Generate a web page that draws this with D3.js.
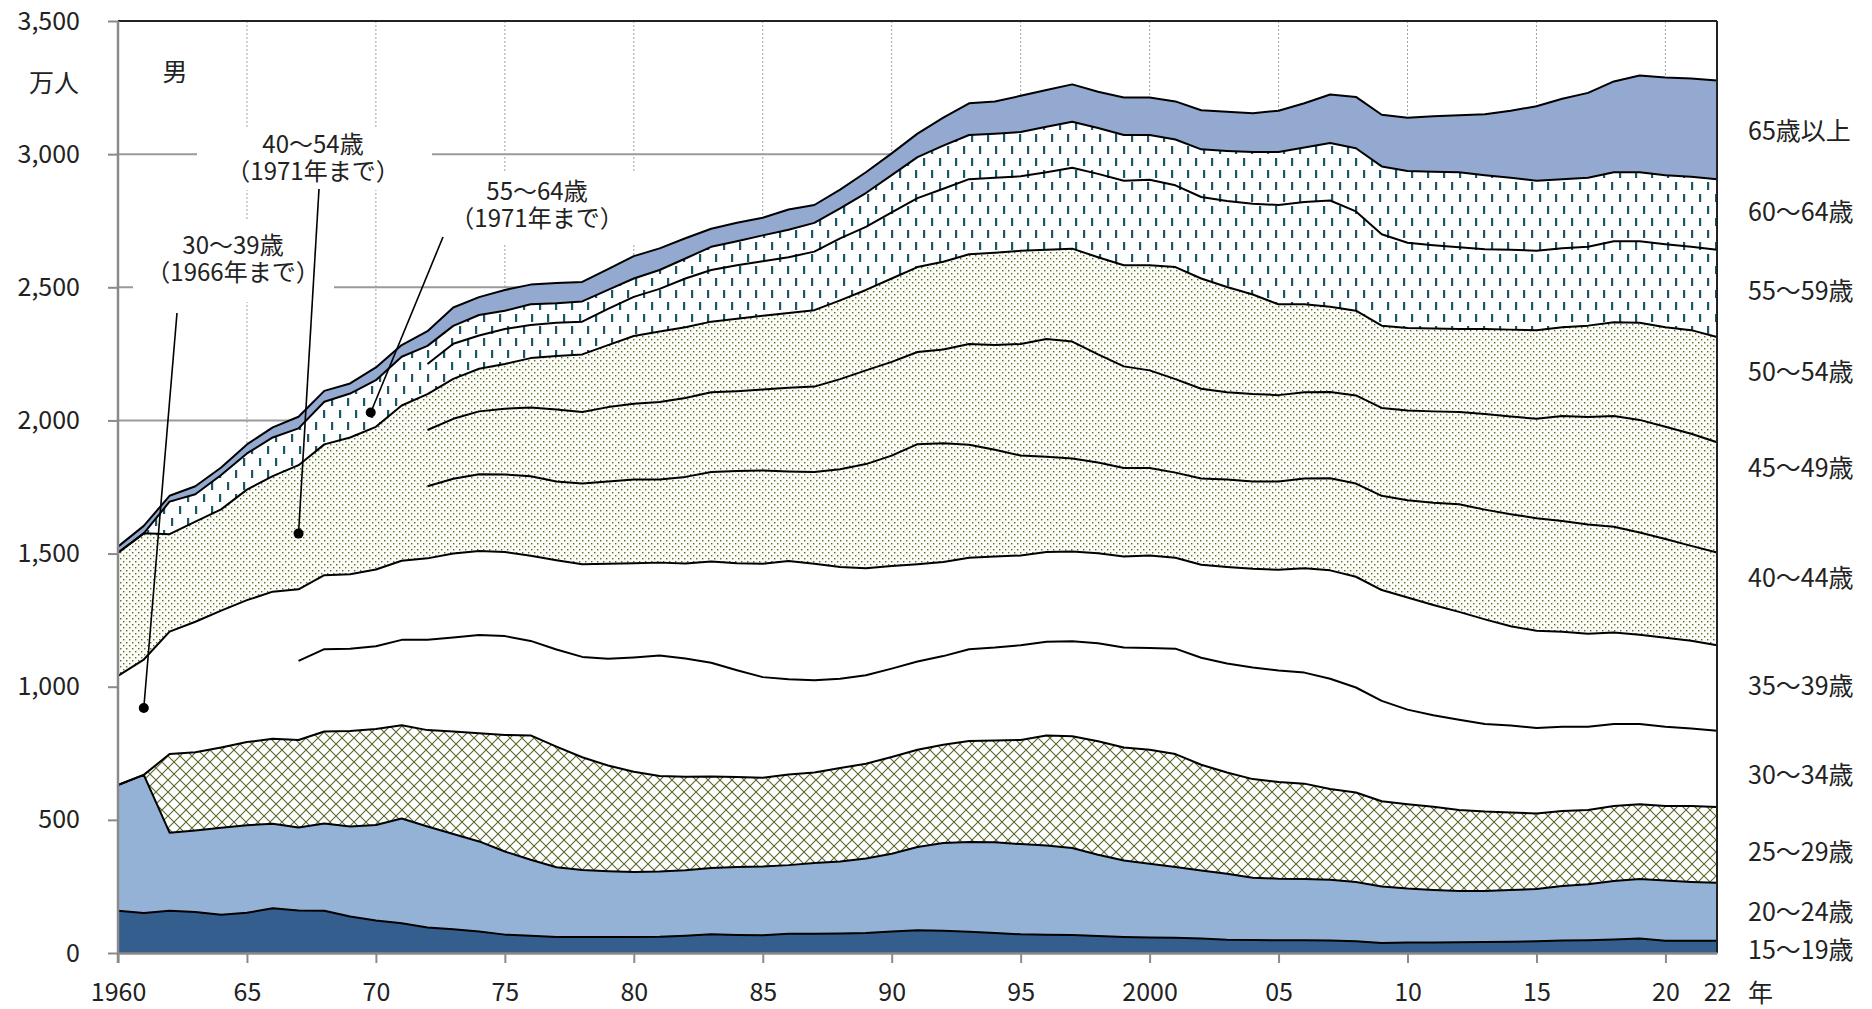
<!DOCTYPE html>
<html><head><meta charset="utf-8">
<script src="https://cdn.jsdelivr.net/npm/d3@7"></script>
<style>
html,body{margin:0;padding:0;background:#fff;}
svg{display:block;font-family:"Noto Sans CJK JP","Noto Sans",sans-serif;}
</style></head>
<body>
<svg id="chart" width="1872" height="1009"></svg>
<script>
// ---------------- data (万人) ----------------
const years = [1960,1961,1962,1963,1964,1965,1966,1967,1968,1969,
 1970,1971,1972,1973,1974,1975,1976,1977,1978,1979,
 1980,1981,1982,1983,1984,1985,1986,1987,1988,1989,
 1990,1991,1992,1993,1994,1995,1996,1997,1998,1999,
 2000,2001,2002,2003,2004,2005,2006,2007,2008,2009,
 2010,2011,2012,2013,2014,2015,2016,2017,2018,2019,
 2020,2021,2022];

const age15_19 = [159,150,159,154,144,151,168,160,159,137,
 122,112,96,89,81,69,65,60,60,60,
 60,61,65,70,68,67,72,72,73,75,
 81,85,84,80,75,70,69,68,64,60,
 58,57,54,50,49,48,48,47,44,38,
 39,39,40,41,42,44,47,48,51,54,
 46,46,46];
const age20_24 = [472,519,293,306,326,329,317,311,327,338,
 359,393,379,358,338,312,285,262,252,247,
 244,245,246,249,255,258,258,266,271,280,
 292,313,329,337,341,339,335,326,305,287,
 277,266,256,248,234,231,230,228,223,212,
 203,198,193,192,195,196,205,210,219,224,
 226,221,218];
const age25_29 = [0,0,295,294,302,312,320,329,346,359,
 360,350,362,385,406,438,467,453,423,397,
 377,359,351,344,338,333,340,340,351,356,
 363,365,369,379,382,391,413,420,426,425,
 428,424,397,380,370,363,358,341,336,320,
 317,312,304,298,291,284,281,279,282,281,
 280,285,284];

// 30～39歳 combined until 1966, split from 1967
const split30From = 1967;
const age30_39 = [410,433,460,490,514,533,552];
const age30_34 = [297,309,309,
 311,321,339,353,369,371,355,365,377,401,
 429,452,444,427,401,378,358,346,335,332,
 332,332,333,345,349,356,352,357,368,375,
 382,396,402,409,419,419,417,414,394,377,
 355,344,339,329,326,321,317,313,308,301,
 298,291,287];
const age35_39 = [269,278,279,
 288,297,306,315,316,316,320,335,348,357,
 354,349,357,380,402,426,444,438,420,402,
 385,365,353,343,342,337,337,337,338,342,
 348,341,349,363,371,378,392,407,416,416,
 421,414,405,393,373,365,356,349,344,335,
 334,330,321];

// 40～54歳 and 55～64歳 combined until 1971, split from 1972
const split40From = 1972;
const age40_54 = [462,474,366,376,380,415,434,466,491,514,536,583];
const age55_64 = [0,0,122,103,129,136,145,138,160,165,175,183];
const age40_44 = [271,281,288,291,298,296,303,309,
 314,312,325,336,346,350,336,344,367,391,
 415,451,446,425,401,375,358,349,341,332,
 328,320,324,328,328,332,337,346,350,354,
 365,384,404,412,421,423,416,410,397,384,
 371,356,348];
const age45_49 = [211,225,236,247,259,270,269,279,
 285,291,296,300,300,304,315,321,338,352,
 352,346,352,378,393,419,442,439,406,382,
 367,351,337,328,328,324,324,324,331,330,
 337,343,347,359,367,373,395,404,416,423,
 421,421,414];
const age50_54 = [135,150,160,168,185,201,216,233,
 254,265,266,265,272,277,280,287,296,302,
 313,319,330,337,347,350,335,349,365,380,
 395,421,414,395,374,341,330,320,318,309,
 310,311,311,319,326,333,333,343,352,365,
 374,389,395];
const age55_59 = [113,132,125,131,124,125,123,136,
 147,160,183,194,201,205,210,220,233,237,
 248,259,274,282,281,280,291,304,313,317,
 321,307,306,323,341,373,384,399,373,343,
 320,313,307,300,300,298,297,296,304,306,
 312,313,328];
const age60_64 = [68,67,77,69,78,73,76,71,
 69,71,75,87,90,97,103,108,112,127,
 140,154,162,166,166,166,171,173,172,172,
 168,172,179,188,194,199,205,216,237,255,
 270,276,282,278,270,263,259,259,259,259,
 259,263,265];
const age65 = [23,28,22,30,28,34,38,44,41,38,
 48,44,55,69,67,78,74,76,73,78,
 84,81,76,68,69,66,76,67,71,78,
 82,88,105,119,121,136,138,140,136,141,
 141,143,147,147,146,155,166,182,193,194,
 200,208,214,229,252,280,302,319,341,363,
 367,369,371];

const seriesLabels = ["15～19歳","20～24歳","25～29歳","30～34歳","35～39歳","40～44歳",
  "45～49歳","50～54歳","55～59歳","60～64歳","65歳以上"];
const yTicks = [0,500,1000,1500,2000,2500,3000,3500];
const xTicks = [1960,1965,1970,1975,1980,1985,1990,1995,2000,2005,2010,2015,2020,2022];
const xTickLabels = ["1960","65","70","75","80","85","90","95","2000","05","10","15","20","22"];

// ---------------- table for stacking ----------------
const keys = ["a15","a20","a25","a30","a35","a40","a45","a50","a55","a60","a65"];
const rows = years.map((yr,i)=>{
  const s30 = yr >= split30From, s40 = yr >= split40From;
  const j30 = i - (split30From-1960), j40 = i - (split40From-1960);
  return {
    year: yr,
    a15: age15_19[i], a20: age20_24[i], a25: age25_29[i],
    a30: s30 ? age30_34[j30] : age30_39[i],
    a35: s30 ? age35_39[j30] : 0,
    a40: s40 ? age40_44[j40] : age40_54[i],
    a45: s40 ? age45_49[j40] : 0,
    a50: s40 ? age50_54[j40] : 0,
    a55: s40 ? age55_59[j40] : age55_64[i],
    a60: s40 ? age60_64[j40] : 0,
    a65: age65[i]
  };
});
const stacked = d3.stack().keys(keys)(rows);
// year from which each layer's upper border is drawn
const lineFrom = {a15:1960,a20:1960,a25:1960,a30:split30From,a35:1960,a40:split40From,
  a45:split40From,a50:1960,a55:split40From,a60:1960,a65:1960};
const fills = {a15:"#345e8e",a20:"#94b2d6",a25:"url(#pCross)",a30:"#fff",a35:"#fff",
  a40:"url(#pDot)",a45:"url(#pDot)",a50:"url(#pDot)",a55:"url(#pDash)",a60:"url(#pDash)",a65:"#93a9d0"};

// ---------------- layout ----------------
const L=118, R=1717, T=21, B=953;
const x = d3.scaleLinear().domain([1960,2022]).range([L,R]);
const y = d3.scaleLinear().domain([0,3500]).range([B,T]);
const svg = d3.select("#chart");

const defs = svg.append("defs");
const pc = defs.append("pattern").attr("id","pCross").attr("width",12).attr("height",12).attr("patternUnits","userSpaceOnUse");
pc.append("rect").attr("width",12).attr("height",12).attr("fill","#fff");
pc.append("path").attr("d","M0,0L12,12M12,0L0,12").attr("stroke","#56692a").attr("stroke-width",1.1);
const pd = defs.append("pattern").attr("id","pDot").attr("width",6).attr("height",6).attr("patternUnits","userSpaceOnUse");
pd.append("rect").attr("width",6).attr("height",6).attr("fill","#fcfdf8");
pd.append("rect").attr("x",0).attr("y",0).attr("width",1.4).attr("height",1.4).attr("fill","#556b1f");
pd.append("rect").attr("x",3).attr("y",3).attr("width",1.4).attr("height",1.4).attr("fill","#556b1f");
const pk = defs.append("pattern").attr("id","pDash").attr("width",16).attr("height",24).attr("patternUnits","userSpaceOnUse");
pk.append("rect").attr("width",16).attr("height",24).attr("fill","#fff");
pk.append("rect").attr("x",3).attr("y",2).attr("width",2.2).attr("height",8).attr("fill","#1b5868");
pk.append("rect").attr("x",11).attr("y",14).attr("width",2.2).attr("height",8).attr("fill","#1b5868");

// gridlines
svg.append("g").selectAll("line").data(yTicks.filter(v=>v>0&&v<3500)).join("line")
  .attr("x1",L).attr("x2",R).attr("y1",d=>y(d)).attr("y2",d=>y(d))
  .attr("stroke","#9a9a9a").attr("stroke-width",2);
svg.append("g").selectAll("line").data(xTicks.filter(v=>v>1960&&v<2022)).join("line")
  .attr("x1",d=>x(d)).attr("x2",d=>x(d)).attr("y1",T).attr("y2",B)
  .attr("stroke","#a0a0a0").attr("stroke-width",1).attr("stroke-dasharray","2,2");

// white boxes behind annotation labels
const boxes = [[133,220,201,82],[197,128,235,62],[440,171,200,73]];
svg.append("g").selectAll("rect").data(boxes).join("rect")
  .attr("x",d=>d[0]).attr("y",d=>d[1]).attr("width",d=>d[2]).attr("height",d=>d[3]).attr("fill","#fff");

// areas
const area = d3.area().x(d=>x(d.data.year)).y0(d=>y(d[0])).y1(d=>y(d[1]));
svg.append("g").selectAll("path").data(stacked).join("path")
  .attr("d",area).attr("fill",d=>fills[d.key]).attr("stroke","none");

// border lines
const line = d3.line().x(d=>x(d.data.year)).y(d=>y(d[1]));
svg.append("g").selectAll("path").data(stacked).join("path")
  .attr("d",s=>line.defined(d=>d.data.year>=lineFrom[s.key])(s))
  .attr("fill","none").attr("stroke","#000").attr("stroke-width",2).attr("stroke-linejoin","round");

// frame top/right
svg.append("line").attr("x1",L).attr("x2",R).attr("y1",T).attr("y2",T).attr("stroke","#222").attr("stroke-width",2);
svg.append("line").attr("x1",R).attr("x2",R).attr("y1",T).attr("y2",B).attr("stroke","#222").attr("stroke-width",2);

// axes
const fmt = d3.format(",");
const yAxis = svg.append("g").attr("transform",`translate(${L},0)`)
  .call(d3.axisLeft(y).tickValues(yTicks).tickSize(10).tickSizeOuter(0).tickPadding(28).tickFormat(fmt));
const xAxis = svg.append("g").attr("transform",`translate(0,${B})`)
  .call(d3.axisBottom(x).tickValues(xTicks).tickSize(10).tickSizeOuter(0).tickPadding(20)
    .tickFormat((d,i)=>xTickLabels[i]));
[yAxis,xAxis].forEach(g=>{
  g.select(".domain").attr("stroke","#8a8a8a").attr("stroke-width",2.5);
  g.selectAll(".tick line").attr("stroke","#8a8a8a").attr("stroke-width",2);
  g.selectAll(".tick text").attr("fill","#222").attr("font-size",25)
    .attr("font-family",'"Noto Sans CJK JP","Noto Sans",sans-serif');
});
xAxis.selectAll(".tick").filter(d=>d===2022).select("line").remove();
yAxis.select(".domain").attr("d",`M0,${T}V${B+10}`);

// unit texts
svg.append("text").attr("x",79).attr("y",83).attr("dy","0.35em").attr("text-anchor","end")
  .attr("font-size",25).attr("fill","#222").text("万人");
svg.append("text").attr("x",175).attr("y",72).attr("dy","0.35em").attr("text-anchor","middle")
  .attr("font-size",25).attr("fill","#222").text("男");
svg.append("text").attr("x",1748).attr("y",993).attr("dy","0.35em").attr("text-anchor","start")
  .attr("font-size",25).attr("fill","#222").text("年");

// right-side series labels
const labelY = [950,912,852,775,686,578,468,372,291,212,131];
svg.append("g").selectAll("text").data(seriesLabels).join("text")
  .attr("x",1748).attr("y",(d,i)=>labelY[i]).attr("dy","0.35em")
  .attr("font-size",25).attr("fill","#222").text(d=>d);

// annotations with leader lines
const notes = [
  {l1:"30～39歳", l2:"（1966年まで）", cx:233, cy:246, yr:1961, val:920, from:[177,313]},
  {l1:"40～54歳", l2:"（1971年まで）", cx:313, cy:145, yr:1967, val:1575, from:[319,189]},
  {l1:"55～64歳", l2:"（1971年まで）", cx:537, cy:192, yr:1969.8, val:2030, from:[443,237]}
];
const ng = svg.append("g");
notes.forEach(n=>{
  ng.append("line").attr("x1",n.from[0]).attr("y1",n.from[1]).attr("x2",x(n.yr)).attr("y2",y(n.val))
    .attr("stroke","#000").attr("stroke-width",1.6);
  ng.append("circle").attr("cx",x(n.yr)).attr("cy",y(n.val)).attr("r",5).attr("fill","#000");
  ng.append("text").attr("x",n.cx).attr("y",n.cy).attr("dy","0.35em").attr("text-anchor","middle")
    .attr("font-size",24).attr("fill","#222").text(n.l1);
  ng.append("text").attr("x",n.cx).attr("y",n.cy+27).attr("dy","0.35em").attr("text-anchor","middle")
    .attr("font-size",24).attr("fill","#222").text(n.l2);
});
</script>
</body></html>
